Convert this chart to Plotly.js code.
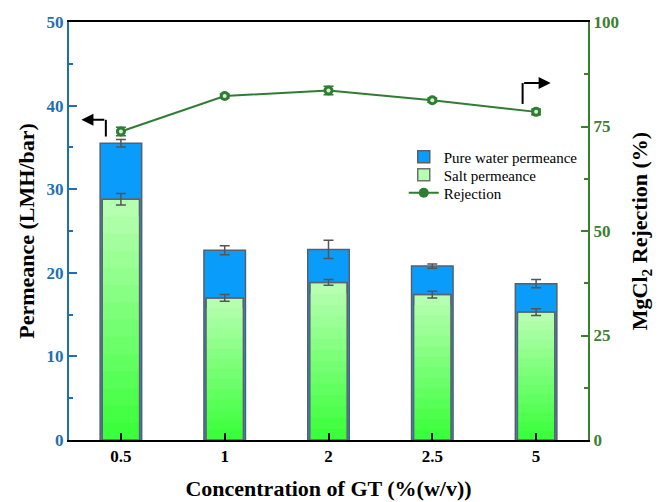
<!DOCTYPE html>
<html>
<head>
<meta charset="utf-8">
<script src="https://cdn.plot.ly/plotly-3.0.1.min.js"></script>
<style>html,body{margin:0;padding:0;background:#fff;}#chart{width:668px;height:502px;}</style>
</head>
<body>
<div id="chart"></div>
<script>
// ---- data ----
const categories = ["0.5", "1", "2", "2.5", "5"];
const pureWater = [35.5, 22.7, 22.8, 20.8, 18.7];
const pureWaterErr = [0.45, 0.55, 1.1, 0.25, 0.5];
const saltPerm = [28.8, 17.0, 18.85, 17.4, 15.3];
const saltPermErr = [0.7, 0.4, 0.35, 0.4, 0.4];
const rejection = [73.8, 82.3, 83.6, 81.3, 78.5];
const rejectionErr = [1.0, 0.5, 1.0, 0.5, 0.7];
const leftTicks = [0, 10, 20, 30, 40, 50];
const rightTicks = [0, 25, 50, 75, 100];

const serif = "Liberation Serif";
const blueAxis = "#1f6fb2";
const greenAxis = "#3b8030";
const lineGreen = "#2f7d32";

const xs = categories.map((c, i) => i);

const traces = [];
traces.push({
  type: "bar", x: xs, y: pureWater, width: 0.4, name: "Pure water permeance", legend: "legend",
  marker: {color: "#0a9cfb", line: {color: "#55606a", width: 1.5}},
  error_y: {type: "data", array: pureWaterErr, color: "#555", thickness: 1.5, width: 5},
  hoverinfo: "skip"
});

// green gradient layers (derived from salt data)
const N = 14;
function mix(a, b, t) { return Math.round(a + (b - a) * t); }
for (let k = 0; k < N; k++) {
  const f = 1 - k / N;
  const t = k / (N - 1);
  const col = `rgb(${mix(182, 60, t)},${mix(255, 255, t)},${mix(176, 60, t)})`;
  traces.push({
    type: "bar", x: xs, y: saltPerm.map(v => v * f), width: 0.36,
    name: "Salt permeance", showlegend: k === 0, legend: "legend2",
    marker: {color: col, line: {color: k === 0 ? "#707070" : col, width: k === 0 ? 1.5 : 0}},
    hoverinfo: "skip"
  });
}
traces.push({
  type: "bar", x: xs, y: saltPerm, width: 0.36, showlegend: false,
  marker: {color: "rgba(0,0,0,0)", line: {color: "#5a6470", width: 1.5}},
  error_y: {type: "data", array: saltPermErr, color: "#555", thickness: 1.5, width: 5},
  hoverinfo: "skip"
});

traces.push({
  type: "scatter", mode: "lines+markers", x: xs, y: rejection, yaxis: "y2",
  name: "Rejection", legend: "legend3",
  line: {color: lineGreen, width: 2},
  marker: {color: lineGreen, size: 10, symbol: "circle"},
  error_y: {type: "data", array: rejectionErr, color: lineGreen, thickness: 1.5, width: 5}
});
traces.push({
  type: "scatter", mode: "markers", x: xs, y: rejection, yaxis: "y2", showlegend: false,
  marker: {color: "#d8f0d8", size: 4}, hoverinfo: "skip"
});

const legFont = {family: serif, size: 15, color: "#000"};
function leg(y) {
  return {x: 0.645, y: y, xanchor: "left", yanchor: "middle", bgcolor: "rgba(0,0,0,0)",
          font: legFont, itemwidth: 30};
}

const layout = {
  width: 668, height: 502,
  margin: {l: 69, r: 80, t: 22, b: 62},
  paper_bgcolor: "#fff", plot_bgcolor: "#fff",
  barmode: "overlay",
  showlegend: true,
  legend: leg(0.677),
  legend2: leg(0.634),
  legend3: leg(0.591),
  xaxis: {
    range: [-0.5, 4.5], tickmode: "array", tickvals: xs, ticktext: categories,
    showgrid: false, zeroline: false,
    showline: true, linecolor: "#000", linewidth: 2, mirror: true,
    ticks: "inside", ticklen: 7, tickwidth: 2, tickcolor: "#000",
    tickfont: {family: serif, size: 17, color: "#000", weight: "bold"},
    title: {text: "Concentration of GT (%(w/v))", font: {family: serif, size: 22, color: "#000", weight: "bold"}, standoff: 15}
  },
  yaxis: {
    range: [0, 50], tickmode: "array", tickvals: leftTicks,
    showgrid: false, zeroline: false,
    showline: true, linecolor: blueAxis, linewidth: 2,
    ticks: "inside", ticklen: 8, tickwidth: 2, tickcolor: blueAxis,
    minor: {ticks: "inside", ticklen: 4, tickwidth: 2, tickcolor: blueAxis, dtick: 5, showgrid: false},
    tickfont: {family: serif, size: 17, color: blueAxis, weight: "bold"},
    title: {text: "Permeance (LMH/bar)", font: {family: serif, size: 22, color: "#000", weight: "bold"}, standoff: 6}
  },
  yaxis2: {
    overlaying: "y", side: "right", range: [0, 100], tickmode: "array", tickvals: rightTicks,
    showgrid: false, zeroline: false,
    showline: true, linecolor: greenAxis, linewidth: 2,
    ticks: "inside", ticklen: 7, tickwidth: 2, tickcolor: greenAxis,
    minor: {ticks: "inside", ticklen: 4, tickwidth: 2, tickcolor: greenAxis, dtick: 12.5, showgrid: false},
    tickfont: {family: serif, size: 17, color: greenAxis, weight: "bold"},
    title: {text: "MgCl<sub>2</sub> Rejection (%)", font: {family: serif, size: 22, color: "#000", weight: "bold"}, standoff: 14}
  },
  shapes: [
    {type: "line", xref: "x", yref: "y2", x0: -0.145, x1: -0.145, y0: 72.6, y1: 76.6, line: {color: "#000", width: 2}},
    {type: "line", xref: "x", yref: "y2", x0: 3.87, x1: 3.87, y0: 80.4, y1: 85.4, line: {color: "#000", width: 2}}
  ],
  annotations: [
    {xref: "x", yref: "y2", axref: "x", ayref: "y2", x: -0.38, y: 76.6, ax: -0.145, ay: 76.6,
     text: "", showarrow: true, arrowhead: 2, arrowsize: 1.2, arrowwidth: 2, arrowcolor: "#000"},
    {xref: "x", yref: "y2", axref: "x", ayref: "y2", x: 4.14, y: 85.4, ax: 3.87, ay: 85.4,
     text: "", showarrow: true, arrowhead: 2, arrowsize: 1.2, arrowwidth: 2, arrowcolor: "#000"}
  ]
};

Plotly.newPlot("chart", traces, layout, {displayModeBar: false, staticPlot: true});
</script>
</body>
</html>
